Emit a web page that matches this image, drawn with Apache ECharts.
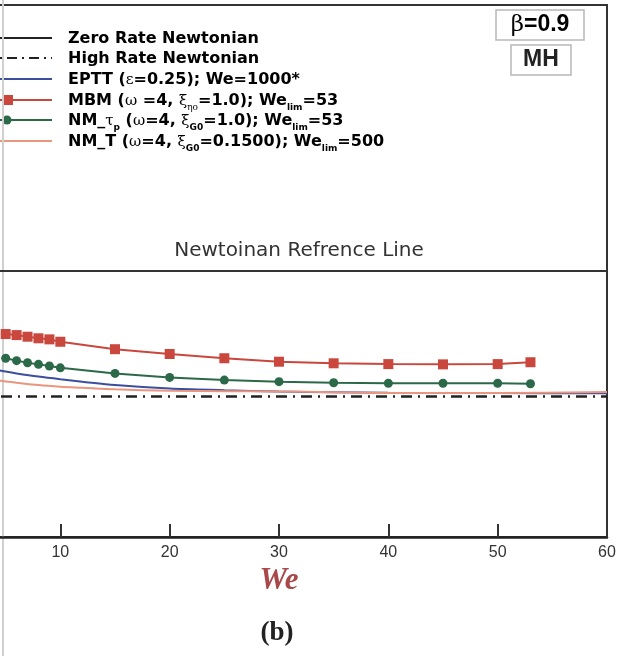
<!DOCTYPE html>
<html>
<head>
<meta charset="utf-8">
<script src="https://cdn.jsdelivr.net/npm/echarts@6/dist/echarts.min.js"></script>
<style>
  html, body { margin: 0; padding: 0; background: #fff; overflow: hidden; }
  /* the plot starts left of the page edge (We=0 is cut off in the original) */
  #chart { position: absolute; left: -49px; top: 0; width: 670px; height: 656px; }
</style>
</head>
<body>
<div id="chart"></div>
<script>
// We values of the marked series (MBM, NM_tau_p)
const weMarked = [5, 6, 7, 8, 9, 10, 15, 20, 25, 30, 35, 40, 45, 50, 53];
const mbm = [0.763, 0.759, 0.753, 0.747, 0.743, 0.734, 0.706, 0.688, 0.672, 0.659, 0.653, 0.650, 0.649, 0.650, 0.657];
const nmTauP = [0.672, 0.663, 0.655, 0.649, 0.643, 0.636, 0.615, 0.600, 0.590, 0.584, 0.580, 0.578, 0.578, 0.578, 0.576];

// smooth curves (EPTT, NM_T)
const weCurve = [4, 5, 6, 8, 10, 12, 15, 20, 25, 30, 35, 40, 50, 60];
const eptt = [0.630, 0.622, 0.615, 0.603, 0.593, 0.584, 0.571, 0.558, 0.552, 0.547, 0.544, 0.542, 0.541, 0.540];
const nmT = [0.590, 0.585, 0.580, 0.571, 0.565, 0.561, 0.555, 0.550, 0.548, 0.547, 0.544, 0.541, 0.541, 0.545];

// newtonian lines
const weRef = [0, 60];
const zeroRate = [1.0, 1.0];
const highRate = [0.528, 0.528];

const xTicks = [0, 10, 20, 30, 40, 50, 60];

const RED = '#c9473d';
const GREEN = '#2b6948';
const BLUE = '#3b4f9e';
const ORANGE = '#ea957f';
const DASHDOT = [11, 6, 2, 6];
const SHIFT = 49; // container is moved 49px to the left

const pair = (xs, ys) => xs.map((x, i) => [x, ys[i]]);

const chart = echarts.init(document.getElementById('chart'));

// legend rows (drawn by hand because of the sub-scripts)
const rich = {
  b: { fontFamily: 'DejaVu Sans', fontWeight: 'bold', fontSize: 16, color: '#222', lineHeight: 22 },
  g: { fontFamily: 'DejaVu Serif', fontSize: 15, color: '#222', lineHeight: 22 },
  s: { fontFamily: 'DejaVu Sans', fontWeight: 'bold', fontSize: 9, color: '#222', lineHeight: 22, verticalAlign: 'bottom' },
  gs: { fontFamily: 'DejaVu Serif', fontSize: 9, color: '#222', lineHeight: 22, verticalAlign: 'bottom' }
};
const legendRows = [
  { y: 38, color: '#222', dash: 'solid', symbol: null, text: '{b|Zero Rate Newtonian}' },
  { y: 58, color: '#222', dash: [2, 5, 10, 5], symbol: null, text: '{b|High Rate Newtonian}' },
  { y: 79, color: BLUE, dash: 'solid', symbol: null, text: '{b|EPTT (}{g|ε}{b|=0.25); We=1000*}' },
  { y: 100, color: RED, dash: 'solid', symbol: 'rect', text: '{b|MBM (}{g|ω}{b| =4, }{g|ξ}{gs|ηo}{b|=1.0); We}{s|lim}{b|=53}' },
  { y: 120, color: GREEN, dash: 'solid', symbol: 'circle', text: '{b|NM_}{g|τ}{s|p}{b| (}{g|ω}{b|=4, }{g|ξ}{s|G0}{b|=1.0); We}{s|lim}{b|=53}' },
  { y: 141, color: ORANGE, dash: 'solid', symbol: null, text: '{b|NM_T (}{g|ω}{b|=4, }{g|ξ}{s|G0}{b|=0.1500); We}{s|lim}{b|=500}' }
];

const items = [];
legendRows.forEach(r => {
  items.push({
    type: 'line', shape: { x1: 0, y1: r.y, x2: 52, y2: r.y },
    style: { stroke: r.color, lineWidth: 2, lineDash: r.dash === 'solid' ? null : r.dash }
  });
  if (r.symbol === 'rect') {
    items.push({ type: 'rect', shape: { x: 3, y: r.y - 5, width: 10, height: 10 }, style: { fill: r.color } });
  } else if (r.symbol === 'circle') {
    items.push({ type: 'circle', shape: { cx: 7, cy: r.y, r: 4.5 }, style: { fill: r.color } });
  }
  items.push({
    type: 'text', x: 68, y: r.y + 1,
    style: { text: r.text, rich: rich, verticalAlign: 'middle' }
  });
});

// parameter boxes
items.push(
  { type: 'rect', shape: { x: 496, y: 10, width: 88, height: 30 }, style: { fill: 'none', stroke: '#b8b8b8', lineWidth: 1.5 } },
  { type: 'text', x: 540, y: 25, style: {
      text: '{g|β}{b|=0.9}', align: 'center', verticalAlign: 'middle',
      rich: {
        g: { fontFamily: 'DejaVu Serif', fontSize: 23, color: '#222' },
        b: { fontFamily: 'Liberation Sans', fontWeight: 'bold', fontSize: 23, color: '#222' }
      }
    } },
  { type: 'rect', shape: { x: 511, y: 45, width: 60, height: 30 }, style: { fill: 'none', stroke: '#b8b8b8', lineWidth: 1.5 } },
  { type: 'text', x: 541, y: 60, style: {
      text: 'MH', align: 'center', verticalAlign: 'middle',
      fontFamily: 'Liberation Sans', fontWeight: 'bold', fontSize: 23, fill: '#222'
    } },
  // reference line caption
  { type: 'text', x: 299, y: 251, style: {
      text: 'Newtoinan Refrence Line', align: 'center', verticalAlign: 'middle',
      fontFamily: 'DejaVu Sans', fontSize: 20, fill: '#333'
    } },
  // panel label
  { type: 'text', x: 277, y: 633, style: {
      text: '(b)', align: 'center', verticalAlign: 'middle',
      fontFamily: 'Liberation Serif', fontWeight: 'bold', fontSize: 27, fill: '#222'
    } },
  // scan edge
  { type: 'line', shape: { x1: 3, y1: 0, x2: 3, y2: 656 }, style: { stroke: '#d0d0d0', lineWidth: 2 } }
);

const option = {
  animation: false,
  backgroundColor: '#fff',
  grid: {
    left: 0, right: 14, top: 5, bottom: 119,
    outerBoundsMode: 'none',
    show: true, borderColor: '#333', borderWidth: 2
  },
  xAxis: {
    type: 'value', min: xTicks[0], max: xTicks[xTicks.length - 1], interval: 10,
    name: 'We', nameLocation: 'middle', nameGap: 28,
    nameTextStyle: {
      fontFamily: 'Liberation Serif', fontStyle: 'italic', fontWeight: 'bold',
      fontSize: 31, color: '#a84848'
    },
    axisLine: { lineStyle: { color: '#222', width: 2.5 } },
    axisTick: { inside: true, length: 13, lineStyle: { color: '#333', width: 2 } },
    axisLabel: { fontFamily: 'Liberation Sans', fontSize: 16, color: '#333', margin: 8 },
    splitLine: { show: false }
  },
  yAxis: {
    type: 'value', min: 0, max: 2, show: false, splitLine: { show: false }
  },
  series: [
    {
      name: 'Zero Rate Newtonian', type: 'line', data: pair(weRef, zeroRate),
      symbol: 'none', lineStyle: { color: '#333', width: 2 }
    },
    {
      name: 'High Rate Newtonian', type: 'line', data: pair(weRef, highRate),
      symbol: 'none', lineStyle: { color: '#222', width: 2.5, type: DASHDOT }
    },
    {
      name: 'EPTT', type: 'line', data: pair(weCurve, eptt), smooth: 0.3,
      symbol: 'none', lineStyle: { color: BLUE, width: 2 }
    },
    {
      name: 'NM_T', type: 'line', data: pair(weCurve, nmT), smooth: 0.3,
      symbol: 'none', lineStyle: { color: ORANGE, width: 2 }
    },
    {
      name: 'NM_tau_p', type: 'line', data: pair(weMarked, nmTauP),
      symbol: 'circle', symbolSize: 9,
      itemStyle: { color: GREEN }, lineStyle: { color: GREEN, width: 2 }
    },
    {
      name: 'MBM', type: 'line', data: pair(weMarked, mbm),
      symbol: 'rect', symbolSize: 10,
      itemStyle: { color: RED }, lineStyle: { color: RED, width: 2 }
    }
  ],
  graphic: [{ type: 'group', x: SHIFT, y: 0, children: items }]
};

chart.setOption(option);
</script>
</body>
</html>
